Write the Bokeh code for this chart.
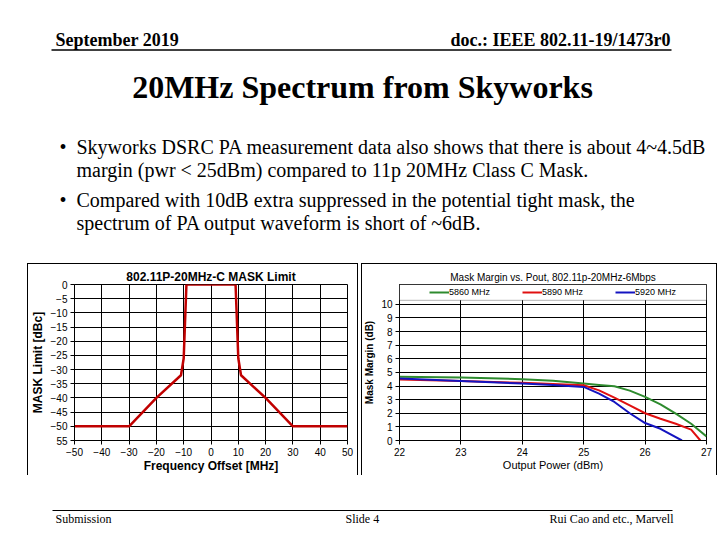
from bokeh.plotting import figure
from bokeh.models import Range1d, FixedTicker, Legend, LegendItem, Spacer, BoxAnnotation
from bokeh.layouts import column, row
from bokeh.core.properties import value
from bokeh.embed import file_html
from bokeh.resources import INLINE

# ---------------- data ----------------
header_left = "September 2019"
header_right = "doc.: IEEE 802.11-19/1473r0"
slide_title = "20MHz Spectrum from Skyworks"
bullet_lines = [
    "Skyworks DSRC PA measurement data also shows that there is about 4~4.5dB",
    "margin (pwr < 25dBm) compared to 11p 20MHz Class C Mask.",
    "Compared with 10dB extra suppressed in the potential tight mask, the",
    "spectrum of PA output waveform is short of ~6dB.",
]
footer_texts = ["Submission", "Slide 4", "Rui Cao and etc., Marvell"]

# left chart: 802.11p 20MHz class C mask
freq_offset = [-50, -30, -20, -11, -10, -9, 9, 10, 11, 20, 30, 50]
mask_limit = [-50, -50, -40, -32, -26, 0, 0, -26, -32, -40, -50, -50]
mask_x_ticks = [-50, -40, -30, -20, -10, 0, 10, 20, 30, 40, 50]
mask_y_ticks = [0, -5, -10, -15, -20, -25, -30, -35, -40, -45, -50, -55]

# right chart: mask margin vs output power
series_names = ["5860 MHz", "5890 MHz", "5920 MHz"]
pout_5860 = [22, 23, 24, 24.5, 25, 25.25, 25.5, 25.75, 26, 26.25, 26.5, 26.75, 27]
margin_5860 = [4.67, 4.62, 4.5, 4.38, 4.18, 4.08, 3.98, 3.66, 3.2, 2.65, 1.97, 1.23, 0.3]
pout_5890 = [22, 23, 24, 24.5, 25, 25.25, 25.5, 25.75, 26, 26.25, 26.5, 26.75, 26.9]
margin_5890 = [4.47, 4.37, 4.23, 4.15, 4.05, 3.68, 3.15, 2.58, 2.0, 1.6, 1.23, 0.8, 0.0]
pout_5920 = [22, 23, 24, 24.5, 25, 25.25, 25.5, 25.75, 26, 26.25, 26.6]
margin_5920 = [4.55, 4.37, 4.18, 4.08, 3.93, 3.44, 2.83, 2.0, 1.28, 0.86, 0.0]
pout_ticks = [22, 23, 24, 25, 26, 27]
margin_ticks = list(range(0, 11))

SERIF = "Liberation Serif"
SANS = "Liberation Sans"
BOX = {"box-shadow": "inset 1px 1px 0 black, inset -1px 0 0 black"}


def blank(width, height, y0, y1):
    p = figure(width=width, height=height, x_range=Range1d(0, width),
               y_range=Range1d(y1, y0), x_axis_type=None, y_axis_type=None,
               toolbar_location=None, output_backend="svg", min_border=0,
               outline_line_color=None)
    p.grid.visible = False
    return p


def style_axes(p, label_size_x, label_size_y, bold_x, bold_y):
    p.xaxis.axis_label_text_font_size = label_size_x
    p.yaxis.axis_label_text_font_size = label_size_y
    p.xaxis.axis_label_text_font_style = "bold" if bold_x else "normal"
    p.yaxis.axis_label_text_font_style = "bold" if bold_y else "normal"
    for ax in (p.xaxis, p.yaxis):
        ax.axis_label_text_font = SANS
        ax.axis_label_text_color = "black"
        ax.major_label_text_font = SANS
        ax.major_label_text_font_size = "10px"
        ax.major_label_text_color = "black"
        ax.major_label_standoff = 3
        ax.major_tick_in = 0
        ax.major_tick_out = 4
        ax.major_tick_line_color = "black"
        ax.minor_tick_line_color = None
        ax.axis_line_color = "black"
    p.xaxis.axis_label_standoff = 0
    p.yaxis.axis_label_standoff = 3
    p.grid.grid_line_color = "black"
    p.grid.grid_line_alpha = 1
    p.outline_line_color = "black"


# ---------------- header ----------------
header = blank(720, 263, 0, 263)
header.text(x=[55], y=[39], text=[header_left], text_font=value(SERIF),
            text_font_size="18px", text_font_style="bold", text_baseline="middle",
            text_align="left", text_color="black")
header.text(x=[670], y=[39], text=[header_right], text_font=value(SERIF),
            text_font_size="18px", text_font_style="bold", text_baseline="middle",
            text_align="right", text_color="black")
header.segment(x0=[51], y0=[49.5], x1=[671], y1=[49.5], line_color="black", line_width=1.5)
header.text(x=[362], y=[86], text=[slide_title], text_font=value(SERIF),
            text_font_size="32px", text_font_style="bold", text_baseline="middle",
            text_align="center", text_color="black")
header.text(x=[59, 59], y=[146, 199], text=["\u2022", "\u2022"], text_font=value(SERIF),
            text_font_size="20px", text_baseline="middle", text_align="left",
            text_color="black")
header.text(x=[76, 76, 76, 76], y=[146, 169, 199, 222], text=bullet_lines,
            text_font=value(SERIF), text_font_size="20px", text_baseline="middle",
            text_align="left", text_color="black")

# ---------------- left chart ----------------
left = figure(width=331, height=212, x_range=Range1d(-50, 50), y_range=Range1d(-55, 0),
              toolbar_location=None, output_backend="svg", border_fill_color=None,
              min_border_left=46, min_border_right=11, min_border_top=21,
              min_border_bottom=33)
left.styles = BOX
left.title.text = "802.11P-20MHz-C MASK Limit"
left.title.align = "center"
left.title.text_font = SANS
left.title.text_font_size = "12px"
left.title.text_font_style = "bold"
left.title.text_color = "black"
left.title.standoff = 2
left.line(freq_offset, mask_limit, line_color="#c00000", line_width=2.5)
left.xaxis.ticker = FixedTicker(ticks=mask_x_ticks)
left.yaxis.ticker = FixedTicker(ticks=mask_y_ticks)
left.yaxis.major_label_overrides = {-55: "55"}
left.xaxis.axis_label = "Frequency Offset [MHz]"
left.yaxis.axis_label = "MASK Limit [dBc]"
style_axes(left, "12px", "12px", True, True)

# ---------------- right chart ----------------
right = figure(width=356, height=212, x_range=Range1d(22, 27), y_range=Range1d(0, 11.45),
               toolbar_location=None, output_backend="svg", border_fill_color=None,
               min_border_left=37, min_border_right=11, min_border_top=21,
               min_border_bottom=33)
right.styles = BOX
right.title.text = "Mask Margin vs. Pout, 802.11p-20MHz-6Mbps"
right.title.align = "center"
right.title.text_font = SANS
right.title.text_font_size = "10px"
right.title.text_font_style = "normal"
right.title.text_color = "black"
right.title.standoff = 3
right.xaxis.ticker = FixedTicker(ticks=pout_ticks)
right.yaxis.ticker = FixedTicker(ticks=margin_ticks)
right.xaxis.axis_label = "Output Power (dBm)"
right.yaxis.axis_label = "Mask Margin (dB)"
style_axes(right, "11px", "10px", False, True)
r1 = right.line(pout_5860, margin_5860, line_color="#2e8b2e", line_width=2)
r2 = right.line(pout_5890, margin_5890, line_color="#e01010", line_width=2)
r3 = right.line(pout_5920, margin_5920, line_color="#1414c0", line_width=2)
right.add_layout(BoxAnnotation(left=22, right=27, bottom=10.29, top=11.45,
                               fill_color="white", fill_alpha=1,
                               line_color="black", line_width=1))
legend = Legend(items=[LegendItem(label=series_names[0], renderers=[r1]),
                       LegendItem(label=series_names[1], renderers=[r2]),
                       LegendItem(label=series_names[2], renderers=[r3])],
                orientation="horizontal", location=(30, 143), padding=2, spacing=20,
                label_width=53, label_height=10, glyph_width=20, glyph_height=10,
                label_standoff=0, label_text_font=SANS, label_text_font_size="9px",
                label_text_color="black", border_line_color=None,
                background_fill_alpha=0, margin=0)
right.add_layout(legend)

# ---------------- footer ----------------
footer = blank(720, 65, 475, 540)
footer.segment(x0=[52], y0=[510], x1=[672], y1=[510], line_color="black", line_width=1.2)
footer.text(x=[55, 345], y=[518, 518], text=footer_texts[:2], text_font=value(SERIF),
            text_font_size="12px", text_baseline="middle", text_align="left",
            text_color="black")
footer.text(x=[673], y=[518], text=footer_texts[2:], text_font=value(SERIF),
            text_font_size="12px", text_baseline="middle", text_align="right",
            text_color="black")

charts = row(Spacer(width=27, height=212), left, Spacer(width=3, height=212), right)
layout = column(header, charts, footer)

open("out.html", "w").write(file_html(layout, INLINE))
